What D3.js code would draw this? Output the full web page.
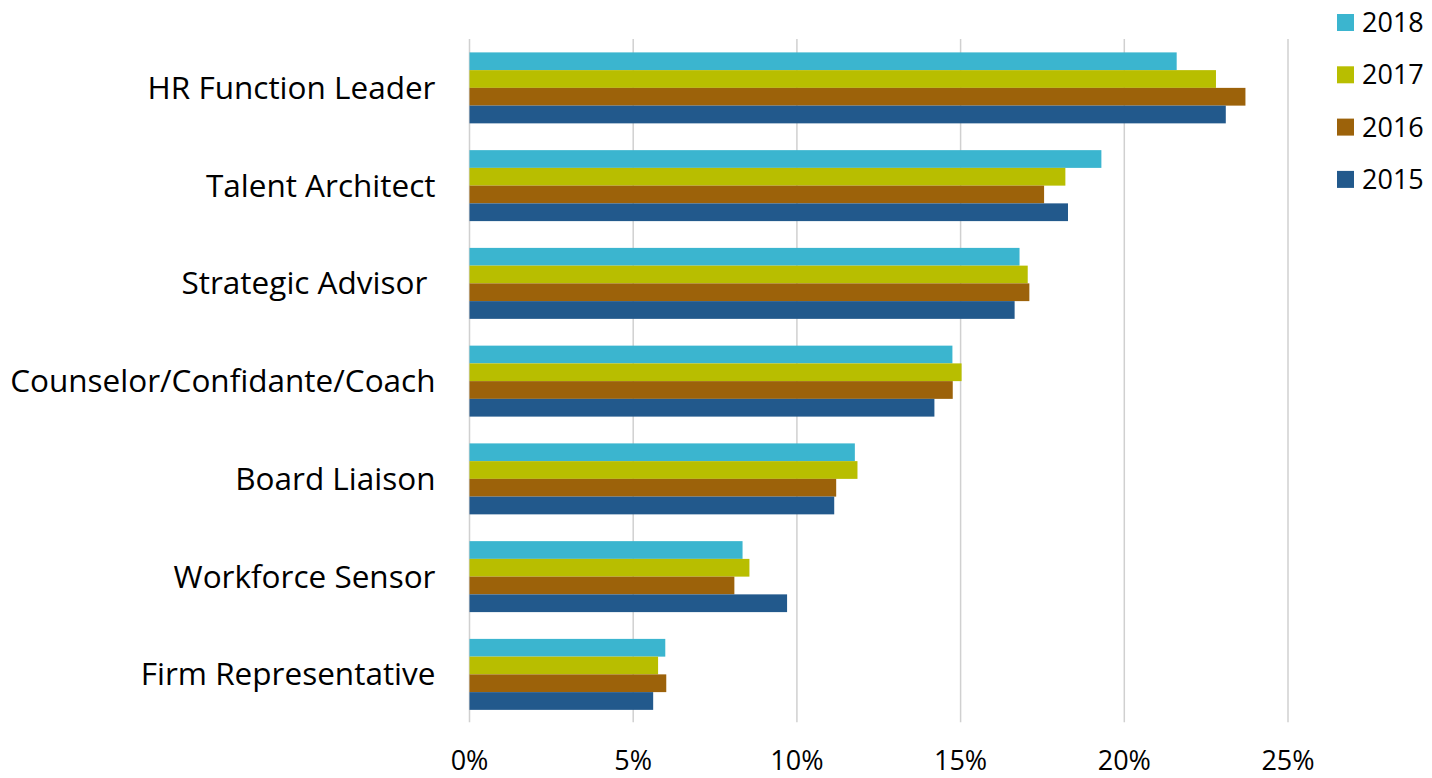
<!DOCTYPE html>
<html>
<head>
<meta charset="utf-8">
<script src="https://cdn.jsdelivr.net/npm/d3@7"></script>
<style>
  body { margin: 0; background: #fff; }
  text { font-family: "Open Sans", "Noto Sans", sans-serif; fill: #000; }
</style>
</head>
<body>
<div id="chart"></div>
<script>
// data (percent)
var categories = ["HR Function Leader", "Talent Architect", "Strategic Advisor ",
  "Counselor/Confidante/Coach", "Board Liaison", "Workforce Sensor", "Firm Representative"];
var years = ["2018", "2017", "2016", "2015"];
var colors = ["#3bb5cf", "#b8be00", "#9c620a", "#22598c"];
var v2018 = [21.6, 19.3, 16.8, 14.75, 11.77, 8.34, 5.98];
var v2017 = [22.8, 18.2, 17.05, 15.03, 11.85, 8.55, 5.76];
var v2016 = [23.7, 17.55, 17.1, 14.76, 11.2, 8.09, 6.01];
var v2015 = [23.1, 18.28, 16.65, 14.2, 11.14, 9.7, 5.61];
var xTicks = [0, 5, 10, 15, 20, 25];
var series = [v2018, v2017, v2016, v2015];

// set the dimensions and margins of the graph
var margin = {top: 39, right: 144, bottom: 55, left: 469.5},
    width = 1432 - margin.left - margin.right,
    height = 778 - margin.top - margin.bottom;

var svg = d3.select("#chart")
  .append("svg")
    .attr("width", 1432)
    .attr("height", 778)
  .append("g")
    .attr("transform", "translate(" + margin.left + "," + margin.top + ")");

var x = d3.scaleLinear()
  .domain([0, 25])
  .range([0, width]);

var y = d3.scaleBand()
  .domain(categories)
  .range([0, 7 * 97.75])
  .paddingInner(0.274)
  .paddingOuter(0.137);

var y1 = d3.scaleBand()
  .domain(years)
  .range([0, y.bandwidth()]);

// gridlines
svg.append("g")
  .selectAll("line")
  .data(xTicks)
  .enter()
  .append("line")
    .attr("x1", function(d) { return x(d); })
    .attr("x2", function(d) { return x(d); })
    .attr("y1", 0)
    .attr("y2", 7 * 97.75 - 1)
    .style("stroke", "#d0d0d0")
    .style("stroke-width", 1.5);

// x tick labels
svg.append("g")
  .selectAll("text")
  .data(xTicks)
  .enter()
  .append("text")
    .attr("x", function(d) { return x(d); })
    .attr("y", 721)
    .attr("dy", "0.36em")
    .attr("text-anchor", "middle")
    .style("font-size", "27px")
    .text(function(d) { return d + "%"; });

// bars
var groups = svg.append("g")
  .selectAll("g")
  .data(categories)
  .enter()
  .append("g")
    .attr("transform", function(d) { return "translate(0," + y(d) + ")"; });

groups.selectAll("rect")
  .data(function(d, i) { return years.map(function(yr, j) { return {year: yr, value: series[j][i], c: colors[j]}; }); })
  .enter()
  .append("rect")
    .attr("x", 0)
    .attr("y", function(d) { return y1(d.year); })
    .attr("width", function(d) { return x(d.value); })
    .attr("height", y1.bandwidth())
    .style("fill", function(d) { return d.c; });

// category labels
svg.append("g")
  .selectAll("text")
  .data(categories)
  .enter()
  .append("text")
    .attr("x", -34)
    .attr("y", function(d) { return y(d) + y.bandwidth() / 2; })
    .attr("dy", "0.35em")
    .attr("text-anchor", "end")
    .style("font-size", "31.5px")
    .style("white-space", "pre")
    .text(function(d) { return d; });

// legend
var legend = d3.select("svg").append("g")
  .selectAll("g")
  .data(years)
  .enter()
  .append("g")
    .attr("transform", function(d, i) { return "translate(1337," + (14 + i * 52.3) + ")"; });

legend.append("rect")
  .attr("width", 17)
  .attr("height", 17)
  .style("fill", function(d, i) { return colors[i]; });

legend.append("text")
  .attr("x", 25)
  .attr("y", 8.5)
  .attr("dy", "0.35em")
  .style("font-size", "27px")
  .text(function(d) { return d; });
</script>
</body>
</html>
